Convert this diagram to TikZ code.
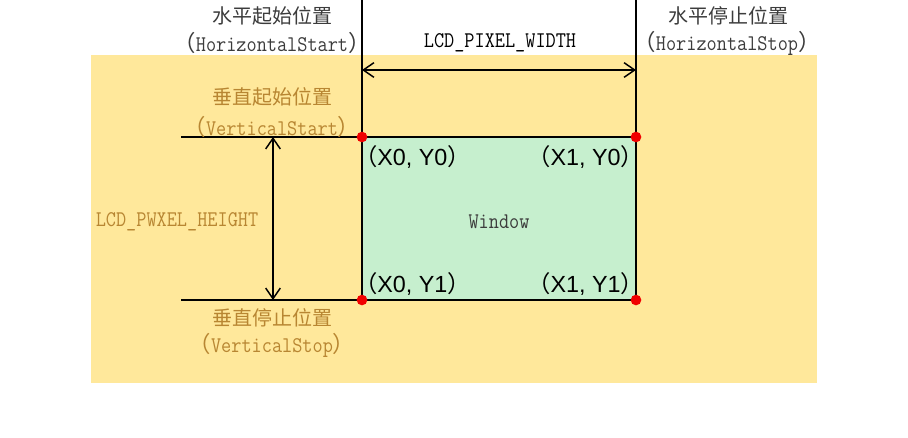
\documentclass[tikz,border=0pt]{standalone}
\usepackage{fontspec}
\setmainfont{Liberation Serif}
\newfontfamily\cjk{Noto Sans CJK SC}
\newfontfamily\latsans{Liberation Sans}
\newfontfamily\monof[FakeStretch=0.88]{Latin Modern Mono}
\usetikzlibrary{arrows.meta}
\definecolor{bgyellow}{RGB}{255,232,155}
\definecolor{wingreen}{RGB}{198,239,206}
\definecolor{txtgray}{RGB}{60,60,60}
\definecolor{txtorange}{RGB}{184,134,50}
\definecolor{dotred}{RGB}{240,0,0}
\newcommand{\lpar}{{\cjk （}}
\newcommand{\rpar}{{\cjk ）}}
\begin{document}
\begin{tikzpicture}[x=0.75pt,y=-0.75pt,
  every node/.style={inner sep=0pt,outer sep=0pt},
  cntext/.style={font=\cjk\fontsize{15}{18}\selectfont},
  mono/.style={font=\monof\fontsize{16.8}{18}\selectfont},
  coordtext/.style={font=\latsans\fontsize{17.5}{20}\selectfont,text=black},
  thinline/.style={line width=1.1pt,black},
  thickline/.style={line width=1.7pt,black},
  dimarrow/.style={line width=1.1pt,black,{Straight Barb[length=8pt,width=11pt]}-{Straight Barb[length=8pt,width=11pt]}},
  reddot/.style={circle,fill=dotred,minimum size=8pt}]
\useasboundingbox (0,0) rectangle (908,437);
% background
\fill[bgyellow] (91,55) rectangle (817,383);
% corner coordinates
\coordinate (TL) at (362,137);
\coordinate (TR) at (636,137);
\coordinate (BL) at (362,300);
\coordinate (BR) at (636,300);
\coordinate (TLtop) at (362,0);
\coordinate (TRtop) at (636,0);
\coordinate (HL1) at (181,137);
\coordinate (HL2) at (181,300);
\coordinate (WA) at (362,70);
\coordinate (WB) at (636,70);
\coordinate (HA) at (273,137);
\coordinate (HB) at (273,300);
% window
\fill[wingreen] (TL) rectangle (BR);
\node[mono,text=txtgray] (win) at (499,222) {Window};
% lines
\draw[thinline] (TLtop) -- (BL);
\draw[thinline] (TRtop) -- (BR);
\draw[thickline] (HL1) -- (TR);
\draw[thickline] (HL2) -- (BR);
% dimension arrows
\draw[dimarrow] (WA) -- (WB);
\draw[dimarrow] (HA) -- (HB);
% dots
\node[reddot] (dTL) at (TL) {};
\node[reddot] (dTR) at (TR) {};
\node[reddot] (dBL) at (BL) {};
\node[reddot] (dBR) at (BR) {};
% top labels
\node[cntext,text=txtgray] (hs1) at (272,16) {水平起始位置};
\node[mono,text=txtgray] (hs2) at (272,43) {\lpar HorizontalStart\rpar};
\node[mono,text=black] (pw) at (500,43) {LCD\_PIXEL\_WIDTH};
\node[cntext,text=txtgray] (he1) at (728,16) {水平停止位置};
\node[mono,text=txtgray] (he2) at (727,43) {\lpar HorizontalStop\rpar};
% vertical labels
\node[cntext,text=txtorange] (vs1) at (272,97) {垂直起始位置};
\node[mono,text=txtorange] (vs2) at (272,127) {\lpar VerticalStart\rpar};
\node[mono,text=txtorange] (ph) at (177,222) {LCD\_PWXEL\_HEIGHT};
\node[cntext,text=txtorange] (ve1) at (272,318) {垂直停止位置};
\node[mono,text=txtorange] (ve2) at (272,345) {\lpar VerticalStop\rpar};
% corner labels
\node[coordtext,anchor=west] (c00) at (354,157) {\lpar X0, Y0\rpar};
\node[coordtext,anchor=east] (c10) at (644,157) {\lpar X1, Y0\rpar};
\node[coordtext,anchor=west] (c01) at (354,284) {\lpar X0, Y1\rpar};
\node[coordtext,anchor=east] (c11) at (644,284) {\lpar X1, Y1\rpar};
\end{tikzpicture}
\end{document}
